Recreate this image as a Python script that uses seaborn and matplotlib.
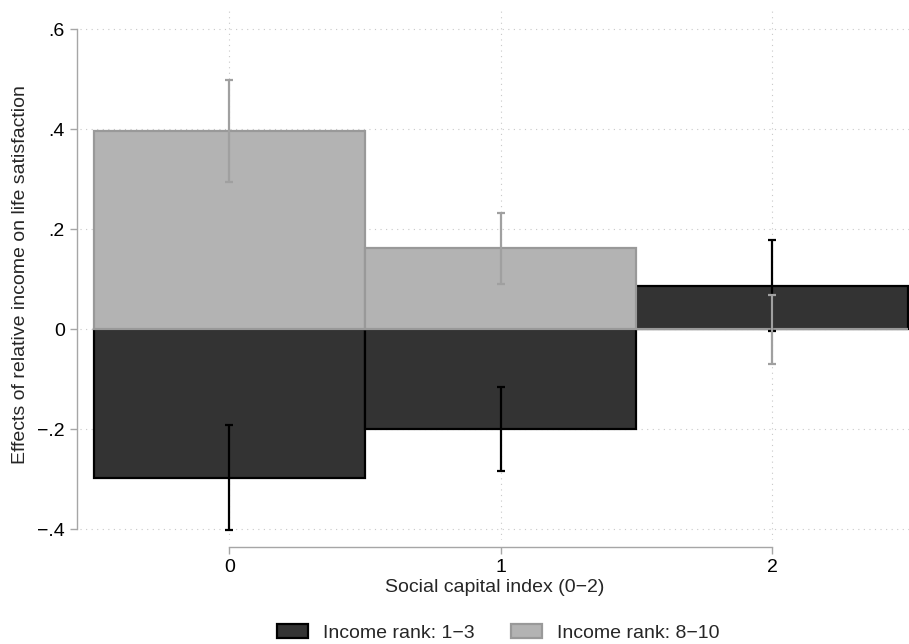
import numpy as np
import pandas as pd
import matplotlib
matplotlib.use("Agg")
import matplotlib.pyplot as plt
import seaborn as sns

# social capital index on the x axis
social_capital = [0, 1, 2]

# income rank 1-3 (dark) : point estimate and 95% CI
low_est = [-0.297, -0.199, 0.087]
low_ci_lo = [-0.402, -0.283, -0.004]
low_ci_hi = [-0.191, -0.116, 0.178]

# income rank 8-10 (light)
high_est = [0.397, 0.162, 0.0]
high_ci_lo = [0.295, 0.091, -0.069]
high_ci_hi = [0.498, 0.233, 0.068]

yticks = [-0.4, -0.2, 0, 0.2, 0.4, 0.6]
ytick_labels = ["\u2212.4", "\u2212.2", "0", ".2", ".4", ".6"]
xticks = [0, 1, 2]
xtick_labels = ["0", "1", "2"]

labels = ["Income rank: 1\u22123", "Income rank: 8\u221210"]

sns.set_style("white")
plt.rcParams['font.family'] = ['Liberation Sans', 'DejaVu Sans']

DARK = "#333333"
LIGHT = "#b3b3b3"
AXIS_GRAY = "#a6a6a6"
FS = 14

fig = plt.figure(figsize=(9.09, 6.44), dpi=100)
ax = fig.add_axes([80 / 909, 1 - 540 / 644, 829 / 909, 530 / 644])

df_low = pd.DataFrame({'x': social_capital, 'y': low_est})
df_high = pd.DataFrame({'x': social_capital, 'y': high_est})

sns.barplot(data=df_low, x='x', y='y', native_scale=True, width=1, color=DARK,
            saturation=1, edgecolor="black", linewidth=1.6, errorbar=None,
            label=labels[0], ax=ax)
sns.barplot(data=df_high, x='x', y='y', native_scale=True, width=1, color=LIGHT,
            saturation=1, edgecolor="#999999", linewidth=1.6, errorbar=None,
            label=labels[1], ax=ax)

low_err = [np.array(low_est) - np.array(low_ci_lo), np.array(low_ci_hi) - np.array(low_est)]
high_err = [np.array(high_est) - np.array(high_ci_lo), np.array(high_ci_hi) - np.array(high_est)]
ax.errorbar(social_capital, low_est, yerr=low_err, fmt='none', ecolor="black",
            elinewidth=1.6, capsize=3.2, capthick=1.6, zorder=5)
ax.errorbar(social_capital, high_est, yerr=high_err, fmt='none', ecolor="#a0a0a0",
            elinewidth=1.6, capsize=3.2, capthick=1.6, zorder=6)

ax.set_xlim(-0.55, 2.505)
ax.set_ylim(-0.422, 0.638)

ax.set_yticks(yticks)
ax.set_yticklabels(ytick_labels)
ax.set_xticks(xticks)
ax.set_xticklabels(xtick_labels)

ax.grid(True, linestyle=(0, (1, 4)), color="#c8c8c8", linewidth=0.8)
ax.set_axisbelow(True)

for s in ["top", "right"]:
    ax.spines[s].set_visible(False)
ax.spines["left"].set_bounds(-0.4, 0.6)
ax.spines["bottom"].set_bounds(0, 2)
ax.spines["left"].set_position(("outward", 2))
ax.spines["bottom"].set_position(("outward", 5))
for s in ["left", "bottom"]:
    ax.spines[s].set_color(AXIS_GRAY)
    ax.spines[s].set_linewidth(1.0)
ax.tick_params(axis="both", colors=AXIS_GRAY, labelcolor="black", length=5,
               width=1.0, labelsize=FS, left=True, bottom=True, pad=4)

ax.set_xlabel("Social capital index (0\u22122)", fontsize=FS, labelpad=2)
ax.set_ylabel("Effects of relative income on life satisfaction", fontsize=FS, labelpad=6)

ax.legend(loc="center", bbox_to_anchor=(498 / 909, 1 - 633 / 644), bbox_transform=fig.transFigure,
          ncol=2, frameon=False, fontsize=FS, handlelength=1.6, handleheight=0.75,
          columnspacing=1.85, handletextpad=0.77)

fig.savefig("out.png", dpi=100)
